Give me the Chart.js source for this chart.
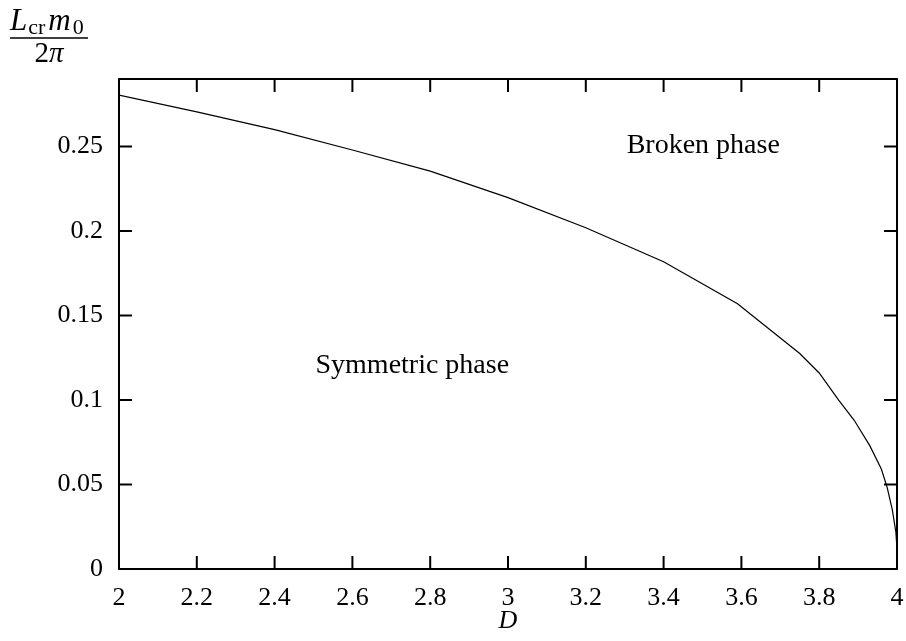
<!DOCTYPE html>
<html><head><meta charset="utf-8">
<script src="https://cdn.jsdelivr.net/npm/chart.js@4.4.0/dist/chart.umd.min.js"></script>
<style>html,body{margin:0;padding:0;background:#fff;}#wrap{width:906px;height:641px;}</style>
</head><body><div id="wrap"><canvas id="c" width="906" height="641"></canvas></div>
<script>
// ---- data ----
const dValues   = [2.0, 2.2, 2.4, 2.6, 2.8, 3.0, 3.2, 3.4, 3.59, 3.75, 3.80, 3.85, 3.89, 3.93, 3.96, 3.975, 3.988, 3.997, 4.0, 4.0];
const lcrValues = [0.2805, 0.2705, 0.260, 0.248, 0.2355, 0.2198, 0.202, 0.1818, 0.157, 0.1275, 0.116, 0.100, 0.088, 0.073, 0.059, 0.048, 0.035, 0.022, 0.012, 0.0];
const xTickValues = [2, 2.2, 2.4, 2.6, 2.8, 3, 3.2, 3.4, 3.6, 3.8, 4];
const xTickLabels = ['2', '2.2', '2.4', '2.6', '2.8', '3', '3.2', '3.4', '3.6', '3.8', '4'];
const yTickValues = [0, 0.05, 0.1, 0.15, 0.2, 0.25];
const yTickLabels = ['0', '0.05', '0.1', '0.15', '0.2', '0.25'];
const regionLabels = ['Symmetric phase', 'Broken phase'];
const regionD      = [2.754, 3.502];
const regionL      = [0.1204, 0.2503];

const SERIF = '"Liberation Serif", "DejaVu Serif", serif';

const framePlugin = {
  id: 'frame',
  afterDraw(chart) {
    const ctx = chart.ctx, a = chart.chartArea;
    const xs = chart.scales.x, ys = chart.scales.y;
    ctx.save();
    ctx.strokeStyle = '#000';
    ctx.lineWidth = 2;
    ctx.strokeRect(a.left, a.top, a.right - a.left, a.bottom - a.top);
    const tl = 13;
    ctx.beginPath();
    xTickValues.forEach(v => {
      const px = xs.getPixelForValue(v);
      ctx.moveTo(px, a.bottom); ctx.lineTo(px, a.bottom - tl);
      ctx.moveTo(px, a.top); ctx.lineTo(px, a.top + tl);
    });
    yTickValues.forEach(v => {
      const py = ys.getPixelForValue(v);
      ctx.moveTo(a.left, py); ctx.lineTo(a.left + tl, py);
      ctx.moveTo(a.right, py); ctx.lineTo(a.right - tl, py);
    });
    ctx.stroke();

    // region labels
    ctx.fillStyle = '#000';
    ctx.font = '28px ' + SERIF;
    ctx.textAlign = 'center';
    ctx.textBaseline = 'middle';
    regionLabels.forEach((t, i) => {
      ctx.fillText(t, xs.getPixelForValue(regionD[i]), ys.getPixelForValue(regionL[i]));
    });

    // y-axis title: fraction L_cr m_0 / 2π
    ctx.textAlign = 'left';
    ctx.textBaseline = 'alphabetic';
    let x = 10;
    const base = 30;
    ctx.font = 'italic 31px ' + SERIF;
    ctx.fillText('L', x, base); x += ctx.measureText('L').width + 1;
    ctx.font = '22px ' + SERIF;
    ctx.fillText('cr', x, base + 4); x += ctx.measureText('cr').width + 3;
    ctx.font = 'italic 31px ' + SERIF;
    ctx.fillText('m', x, base); x += ctx.measureText('m').width + 2;
    ctx.font = '22px ' + SERIF;
    ctx.fillText('0', x, base + 4); x += ctx.measureText('0').width;
    const x1 = 10, x2 = Math.max(x, 88);
    ctx.lineWidth = 1.6;
    ctx.beginPath(); ctx.moveTo(x1, 38); ctx.lineTo(x2, 38); ctx.stroke();
    ctx.font = '29px ' + SERIF;
    const w2 = ctx.measureText('2').width;
    ctx.font = 'italic 29px ' + SERIF;
    const wp = ctx.measureText('π').width;
    let dx = (x1 + x2) / 2 - (w2 + wp) / 2;
    ctx.font = '29px ' + SERIF;
    ctx.fillText('2', dx, 62);
    ctx.font = 'italic 29px ' + SERIF;
    ctx.fillText('π', dx + w2, 62);
    ctx.restore();
  }
};

new Chart(document.getElementById('c'), {
  type: 'line',
  data: {
    datasets: [{
      data: dValues.map((d, i) => ({ x: d, y: lcrValues[i] })),
      borderColor: '#000',
      borderWidth: 1.2,
      pointRadius: 0,
      tension: 0,
      fill: false
    }]
  },
  options: {
    responsive: false,
    devicePixelRatio: 1,
    animation: false,
    layout: { padding: { top: 79, right: 9, left: 0, bottom: 0 } },
    plugins: { legend: { display: false }, tooltip: { enabled: false } },
    scales: {
      x: {
        type: 'linear', min: 2, max: 4,
        grid: { display: false, drawTicks: false },
        border: { display: false },
        afterBuildTicks: s => { s.ticks = xTickValues.map(v => ({ value: v })); },
        afterFit: s => { s.height = 72; s.paddingLeft = 0; s.paddingRight = 0; },
        ticks: {
          color: '#000', padding: 14, maxRotation: 0, autoSkip: false,
          font: { family: SERIF, size: 26 },
          callback: (v, i) => xTickLabels[i]
        },
        title: {
          display: true, text: 'D', color: '#000',
          font: { family: SERIF, size: 26, style: 'italic' },
          padding: { top: 0, bottom: 4 }
        }
      },
      y: {
        type: 'linear', min: 0, max: 0.29,
        grid: { display: false, drawTicks: false },
        border: { display: false },
        afterBuildTicks: s => { s.ticks = yTickValues.map(v => ({ value: v })); },
        afterFit: s => { s.width = 119; s.paddingTop = 0; s.paddingBottom = 0; },
        ticks: {
          color: '#000', padding: 16, autoSkip: false,
          font: { family: SERIF, size: 26 },
          callback: (v, i) => yTickLabels[i]
        }
      }
    }
  },
  plugins: [framePlugin]
});
</script></body></html>
